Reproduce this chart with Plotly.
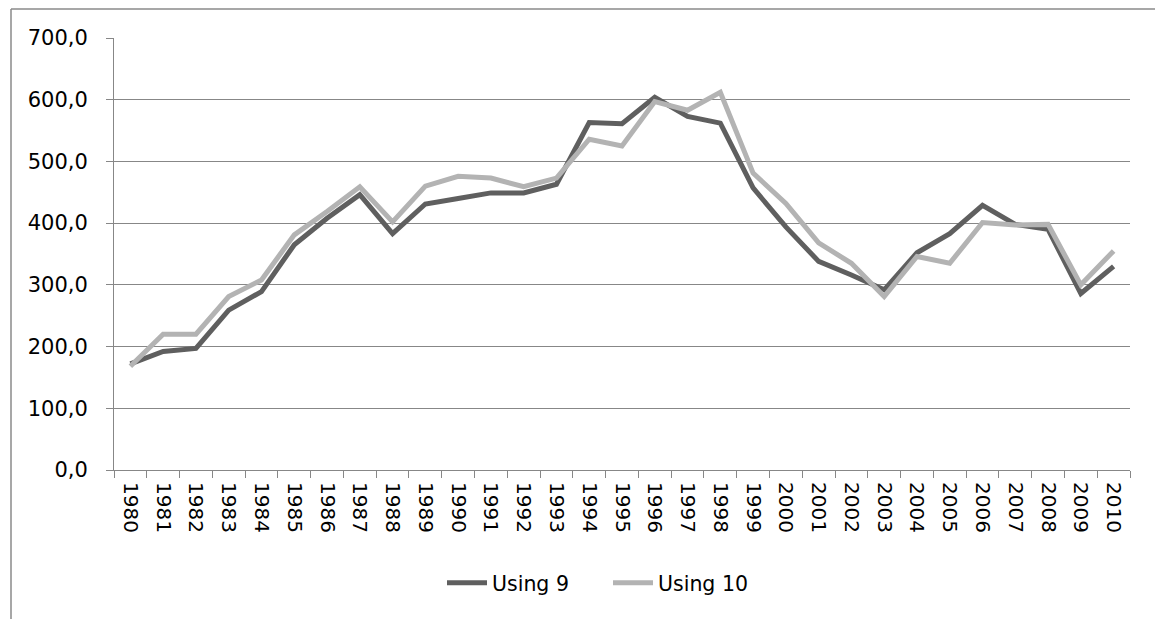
import plotly.graph_objects as go

years = [str(y) for y in range(1980, 2011)]
using9 = [172, 192, 197, 259, 289, 365, 408, 446, 383, 431, 440, 449, 449, 463, 563,
          561, 604, 573, 562, 457, 394, 338, 316, 292, 352, 383, 429, 398, 390, 286, 330]
using10 = [168, 220, 220, 281, 308, 381, 419, 459, 402, 460, 476, 473, 459, 473, 536,
           525, 597, 583, 612, 481, 432, 368, 335, 281, 346, 335, 401, 397, 398, 300, 355]

W, H = 1155, 619
L, R, T, B = 114, 25, 38, 149
pw, ph = W - L - R, H - T - B

def px(x):
    return (x - L) / pw

def py(y):
    return (H - B - y) / ph

grid = "#878787"
font = "DejaVu Sans"
txt = "#000000"

fig = go.Figure()
fig.add_trace(go.Scatter(x=years, y=using9, mode="lines", name="Using 9",
                         line=dict(color="#5f5f5f", width=5)))
fig.add_trace(go.Scatter(x=years, y=using10, mode="lines", name="Using 10",
                         line=dict(color="#b3b3b3", width=5)))

fig.update_layout(
    width=W, height=H,
    margin=dict(l=L, r=R, t=T, b=B, autoexpand=False),
    paper_bgcolor="white", plot_bgcolor="white",
    separators=", ",
    font=dict(family=font, size=21, color=txt),
    showlegend=True,
    legend=dict(orientation="h", x=px(442), xanchor="left", y=py(583), yanchor="middle",
                font=dict(family=font, size=20.5, color=txt),
                itemwidth=40, entrywidth=111, tracegroupgap=0, bgcolor="rgba(0,0,0,0)"),
    shapes=[
        dict(type="line", xref="paper", yref="paper", x0=px(11), x1=px(11),
             y0=py(9), y1=py(700), line=dict(color="#8a8a8a", width=1.5)),
        dict(type="line", xref="paper", yref="paper", x0=px(11), x1=px(1200),
             y0=py(9), y1=py(9), line=dict(color="#8a8a8a", width=1.5)),
    ],
)

fig.update_xaxes(
    type="category", tickangle=90, tickson="boundaries",
    ticks="outside", ticklen=7, tickcolor=grid, tickwidth=1,
    showline=True, linecolor=grid, linewidth=1,
    showgrid=False, tickfont=dict(family=font, size=20, color=txt),
    ticklabelstandoff=7,
    range=[-0.5, len(years) - 0.5],
)
fig.update_yaxes(
    range=[0, 700], dtick=100, tickformat=".1f",
    ticks="outside", ticklen=7, tickcolor=grid, tickwidth=1,
    showline=True, linecolor=grid, linewidth=1,
    showgrid=True, gridcolor=grid, gridwidth=1, zeroline=False,
    tickfont=dict(family=font, size=21, color=txt),
    ticklabelstandoff=14,
)

fig.write_html("out.html")
